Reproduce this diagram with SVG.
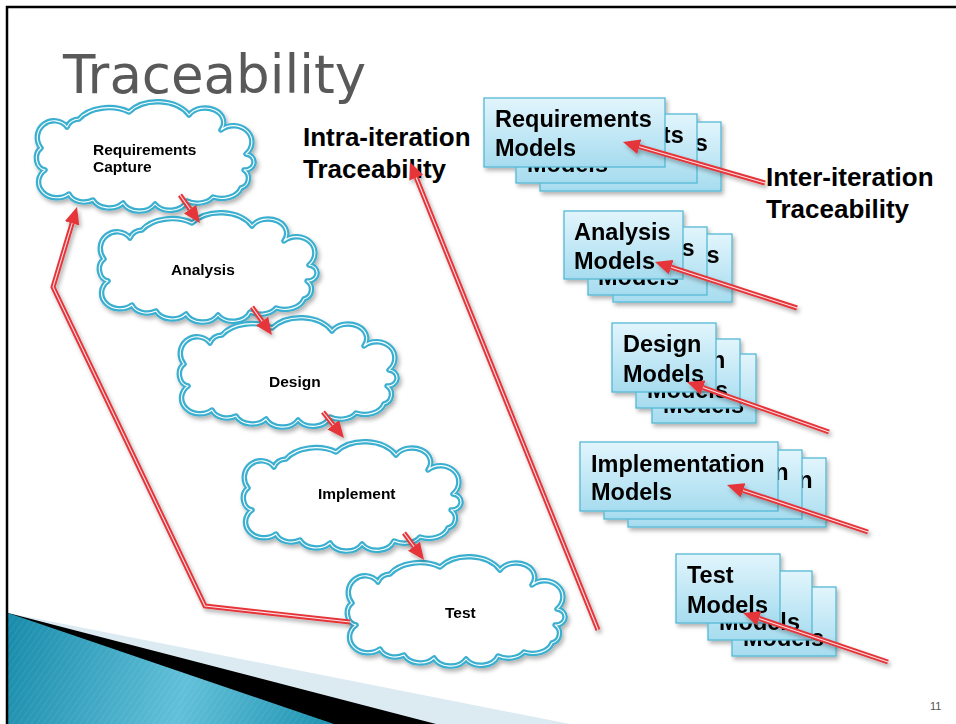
<svg xmlns="http://www.w3.org/2000/svg" width="956" height="724" viewBox="0 0 956 724">
<defs>
<style>
.cl{fill:#fff;stroke:#3AAFCF;stroke-width:5.5;stroke-linejoin:round}
.cli{fill:none;stroke:#fff;stroke-width:1.1;stroke-linejoin:round}
.ct{font-family:"Liberation Sans",Arial,sans-serif;font-weight:bold;font-size:15.5px;fill:#000}
.bx{fill:url(#bg);stroke:#55B8D4;stroke-width:1.3}
.bt{font-family:"Liberation Sans",Arial,sans-serif;font-weight:bold;font-size:23.5px;fill:#000}
.lb{font-family:"Liberation Sans",Arial,sans-serif;font-weight:bold;font-size:26px;fill:#000}
.ar{fill:none;stroke:#E5353A;stroke-width:5;stroke-linejoin:miter}
.aw{fill:none;stroke:#fff;stroke-width:1.1;stroke-opacity:0.85}
</style>
<linearGradient id="bg" x1="0" y1="0" x2="0" y2="1">
<stop offset="0" stop-color="#E2F5FC"/>
<stop offset="1" stop-color="#A6DCEF"/>
</linearGradient>
<linearGradient id="tg" gradientUnits="userSpaceOnUse" x1="8" y1="640" x2="330" y2="724">
<stop offset="0" stop-color="#1A8DAC"/>
<stop offset="0.55" stop-color="#62C0D9"/>
<stop offset="1" stop-color="#1E93B1"/>
</linearGradient>
<pattern id="st" width="5" height="5" patternUnits="userSpaceOnUse" patternTransform="rotate(35)">
<line x1="0" y1="0" x2="0" y2="5" stroke="#ffffff" stroke-opacity="0.12" stroke-width="1.2"/>
</pattern>
<filter id="sh" x="-10%" y="-10%" width="125%" height="130%">
<feDropShadow dx="2" dy="3" stdDeviation="2" flood-color="#000" flood-opacity="0.3"/>
</filter>
<marker id="ah" viewBox="0 0 17 15" refX="0" refY="7.5" markerWidth="17" markerHeight="15" orient="auto" markerUnits="userSpaceOnUse">
<path d="M0,0 L17,7.5 L0,15 z" fill="#E5353A"/>
</marker>
<path id="cloud" d="M 8,70 A 10,12 0 0 1 4,48 A 16,16 0 0 1 30,27 A 14,12 0 0 1 42,19 A 34,22 0 0 1 92,12 A 36,26 0 0 1 152,15 A 18,14 0 0 1 184,30 A 18,16 0 0 1 209,54 A 9,8 0 0 1 207,70 A 10,10 0 0 1 204,88 A 20,14 0 0 1 176,97 A 18,12 0 0 1 150,101 A 18,14 0 0 1 118,104 A 18,14 0 0 1 86,103 A 18,14 0 0 1 56,100 A 16,12 0 0 1 32,94 A 14,12 0 0 1 8,70 Z"/>
</defs>

<rect width="956" height="724" fill="#fff"/>

<!-- bottom-left decoration -->
<g id="decor">
<polygon points="8,613 570,724 8,724" fill="#DCEAF2"/>
<polygon points="8,613 436,724 8,724" fill="#000"/>
<polygon points="8,613 334,724 8,724" fill="url(#tg)"/>
<polygon points="8,613 334,724 8,724" fill="url(#st)"/>
</g>

<!-- slide frame -->
<path d="M7,724 V7 H956" fill="none" stroke="#000" stroke-width="2.5"/>

<text x="63" y="93" font-family="DejaVu Sans, sans-serif" font-size="53" fill="#595959">Traceability</text>

<!-- clouds -->
<g id="req-capture" filter="url(#sh)">
<use href="#cloud" class="cl" transform="translate(37,100)"/>
<use href="#cloud" class="cli" transform="translate(37,100)"/>
<text class="ct" x="93" y="155">Requirements</text>
<text class="ct" x="93" y="172">Capture</text>
</g>
<g id="analysis" filter="url(#sh)">
<use href="#cloud" class="cl" transform="translate(100,211)"/>
<use href="#cloud" class="cli" transform="translate(100,211)"/>
<text class="ct" x="171" y="275">Analysis</text>
</g>
<g id="design" filter="url(#sh)">
<use href="#cloud" class="cl" transform="translate(180,316)"/>
<use href="#cloud" class="cli" transform="translate(180,316)"/>
<text class="ct" x="269" y="387">Design</text>
</g>
<g id="implement" filter="url(#sh)">
<use href="#cloud" class="cl" transform="translate(244,440)"/>
<use href="#cloud" class="cli" transform="translate(244,440)"/>
<text class="ct" x="318" y="499">Implement</text>
</g>
<g id="test" filter="url(#sh)">
<use href="#cloud" class="cl" transform="translate(348,555)"/>
<use href="#cloud" class="cli" transform="translate(348,555)"/>
<text class="ct" x="445" y="618">Test</text>
</g>

<!-- model stacks -->
<g id="req-models" filter="url(#sh)">
<rect class="bx" x="540" y="122" width="181" height="69"/>
<text class="bt" x="551" y="151">Requirements</text><text class="bt" x="551" y="180">Models</text>
<rect class="bx" x="516" y="114" width="181" height="69"/>
<text class="bt" x="527" y="143">Requirements</text><text class="bt" x="527" y="172">Models</text>
<rect class="bx" x="484" y="98" width="181" height="69"/>
<text class="bt" x="495" y="127">Requirements</text><text class="bt" x="495" y="156">Models</text>
</g>
<g id="analysis-models" filter="url(#sh)">
<rect class="bx" x="613" y="234" width="119" height="68"/>
<text class="bt" x="623" y="263">Analysis</text><text class="bt" x="623" y="292">Models</text>
<rect class="bx" x="588" y="227" width="119" height="68"/>
<text class="bt" x="598" y="256">Analysis</text><text class="bt" x="598" y="285">Models</text>
<rect class="bx" x="564" y="211" width="119" height="68"/>
<text class="bt" x="574" y="240">Analysis</text><text class="bt" x="574" y="269">Models</text>
</g>
<g id="design-models" filter="url(#sh)">
<rect class="bx" x="652" y="354" width="104" height="69"/>
<text class="bt" x="663" y="383">Design</text><text class="bt" x="663" y="413">Models</text>
<rect class="bx" x="636" y="339" width="104" height="69"/>
<text class="bt" x="647" y="368">Design</text><text class="bt" x="647" y="398">Models</text>
<rect class="bx" x="612" y="323" width="104" height="69"/>
<text class="bt" x="623" y="352">Design</text><text class="bt" x="623" y="382">Models</text>
</g>
<g id="implementation-models" filter="url(#sh)">
<rect class="bx" x="628" y="458" width="198" height="69"/>
<text class="bt" x="639" y="488">Implementation</text><text class="bt" x="639" y="516">Models</text>
<rect class="bx" x="604" y="450" width="198" height="69"/>
<text class="bt" x="615" y="480">Implementation</text><text class="bt" x="615" y="508">Models</text>
<rect class="bx" x="580" y="442" width="198" height="69"/>
<text class="bt" x="591" y="472">Implementation</text><text class="bt" x="591" y="500">Models</text>
</g>
<g id="test-models" filter="url(#sh)">
<rect class="bx" x="732" y="587" width="104" height="69"/>
<text class="bt" x="743" y="616">Test</text><text class="bt" x="743" y="646">Models</text>
<rect class="bx" x="708" y="571" width="104" height="69"/>
<text class="bt" x="719" y="600">Test</text><text class="bt" x="719" y="630">Models</text>
<rect class="bx" x="676" y="554" width="104" height="69"/>
<text class="bt" x="687" y="583">Test</text><text class="bt" x="687" y="613">Models</text>
</g>

<!-- labels -->
<g id="intra-label">
<text class="lb" x="303" y="146">Intra-iteration</text>
<text class="lb" x="303" y="178">Traceability</text>
</g>
<g id="inter-label">
<text class="lb" x="766" y="186">Inter-iteration</text>
<text class="lb" x="766" y="218">Traceability</text>
</g>

<!-- connectors -->
<g id="connectors" filter="url(#sh)">
<path class="ar" marker-end="url(#ah)" d="M180,195 L190.1,209.2"/>
<path class="aw" d="M180,195 L190.1,209.2"/>
<path class="ar" marker-end="url(#ah)" d="M252,307 L262.1,321.2"/>
<path class="aw" d="M252,307 L262.1,321.2"/>
<path class="ar" marker-end="url(#ah)" d="M323,412 L333.3,424.8"/>
<path class="aw" d="M323,412 L333.3,424.8"/>
<path class="ar" marker-end="url(#ah)" d="M404,533 L413.9,546.3"/>
<path class="aw" d="M404,533 L413.9,546.3"/>
<path class="ar" marker-end="url(#ah)" d="M350,622 L205,606 L53,287 L72.1,223.3"/>
<path class="aw" d="M350,622 L205,606 L53,287 L72.1,223.3"/>
<path class="ar" marker-end="url(#ah)" d="M598,630 L416.3,177.8"/>
<path class="aw" d="M598,630 L416.3,177.8"/>
<path class="ar" marker-end="url(#ah)" d="M765,183 L639.3,146.7"/>
<path class="aw" d="M765,183 L639.3,146.7"/>
<path class="ar" marker-end="url(#ah)" d="M797,308 L671.2,267.2"/>
<path class="aw" d="M797,308 L671.2,267.2"/>
<path class="ar" marker-end="url(#ah)" d="M829,432 L703,387.6"/>
<path class="aw" d="M829,432 L703,387.6"/>
<path class="ar" marker-end="url(#ah)" d="M868,532 L743.1,490.4"/>
<path class="aw" d="M868,532 L743.1,490.4"/>
<path class="ar" marker-end="url(#ah)" d="M888,662 L759.1,618.4"/>
<path class="aw" d="M888,662 L759.1,618.4"/>
</g>

<text x="930" y="710" font-family="Liberation Sans, Arial, sans-serif" font-size="11" fill="#555">11</text>
</svg>
